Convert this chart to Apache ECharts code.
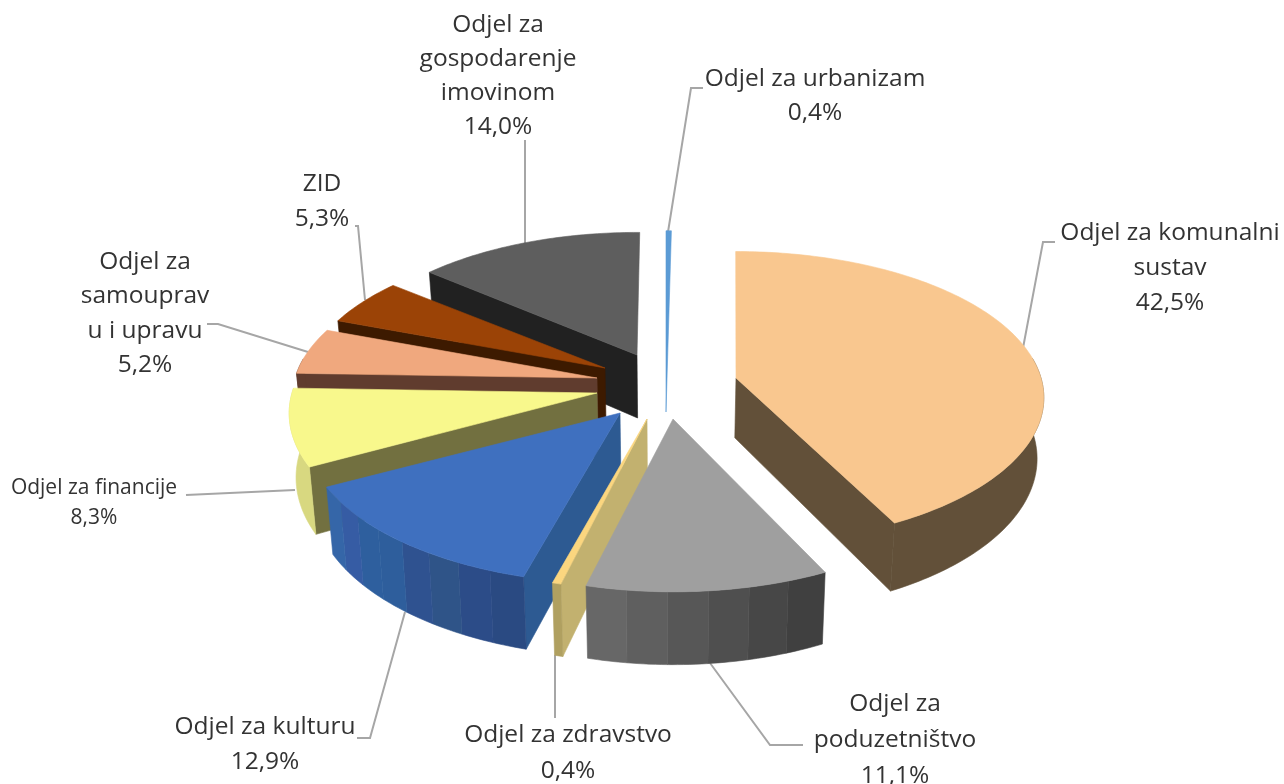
<!DOCTYPE html>
<html>
<head>
<meta charset="utf-8">
<style>html, body { margin: 0; background: #fff; } #chart { width: 1284px; height: 784px; }</style>
<script src="https://cdn.jsdelivr.net/npm/echarts@6/dist/echarts.min.js"></script>
</head>
<body>
<div id="chart"></div>
<script>
var categories = ["Odjel za urbanizam", "Odjel za komunalni\nsustav", "Odjel za\npoduzetništvo", "Odjel za zdravstvo", "Odjel za kulturu", "Odjel za financije", "Odjel za\nsamouprav\nu i upravu", "ZID", "Odjel za\ngospodarenje\nimovinom"]
var shares = [0.4, 42.5, 11.1, 0.4, 12.9, 8.3, 5.2, 5.3, 14.0]

// everything below is looks only, same order as categories
var apex = [[666, 412], [736, 378], [673, 419], [647, 419], [620, 413], [597, 393], [597, 378], [605, 368], [637, 355]]
var scaleX = [0.8, 1, 1.01, 1, 1.02, 1, 0.99, 0.98, 0.97]
var scaleY = [1.39, 0.97, 1.01, 1, 1, 1, 0.96, 0.95, 0.94]
var scaleZ = [1, 0.95, 1, 1, 1, 1, 1, 1, 1]
var spin = [0, -1.5, 0, 0, 0, 0, 0, 0, 0.6]
var topColors = ["#5b9bd5", "#f9c78f", "#9f9f9f", "#fbd67f", "#3f70bf", "#f8f88c", "#f0a87e", "#9b4306", "#5e5e5e"]
var wallColors = ["#5b9bd5", "#625039", "#636363", "#c2b16f", "#2d5a92", "#727040", "#603c2e", "#3d1a00", "#212121"]
var outerBands = [["#5b9bd5"], ["#625039"], ["#404040", "#474747", "#4f4f4f", "#575757", "#5f5f5f", "#676767"], ["#b0a060"],
    ["#2a4a82", "#2c4c88", "#2f5488", "#2f5290", "#2e5e9c", "#2e5f9e", "#365ca4", "#3566a8"],
    ["#d8d880"], ["#603c2e"], ["#3d1a00"], ["#212121"]]
var drawOrder = [8, 7, 6, 0, 5, 1, 4, 3, 2]

var labelX = [815, 1170, 895, 568, 265, 94, 145, 322, 498]
var labelY = [79, 233, 704, 735, 727, 488, 262, 184, 25]
var labelSize = [24.5, 24.5, 24.5, 24.5, 24.5, 21, 24.5, 24.5, 24.5]
var labelGap = [34, 35, 36, 36, 35, 30, 34.5, 35, 34]
var leaders = [
    [[703, 88], [691, 88], [668, 232]],
    [[1055, 242], [1043, 242], [1023, 348]],
    [[803, 745], [770, 745], [710, 663]],
    [[555, 718], [555, 655]],
    [[357, 738], [370, 738], [405, 612]],
    [[186, 495], [295, 490]],
    [[207, 324], [218, 324], [308, 352]],
    [[355, 226], [358, 226], [365, 300]],
    [[525, 140], [525, 243]],
]

var RX = 305, TILT = 148, PERSP = 0.135, DEPTH = 63, VANISH_X = 670, BOTTOM_SHRINK = 0.982
var total = shares.reduce(function(a, b) { return a + b }, 0)
var starts = [], sum = 0
shares.forEach(function(v) { starts.push(sum / total * 360), sum += v })

function project(i, deg, lower) {
    var t = deg * Math.PI / 180, X = Math.sin(t), Y = Math.cos(t), w = 1 + PERSP * Y
    var x = apex[i][0] + scaleX[i] * RX * X / w, y = apex[i][1] - scaleY[i] * TILT * Y / w
    return lower? drop(i, x, y, w): [x, y]
}
function drop(i, x, y, w) { return [VANISH_X + (x - VANISH_X) * BOTTOM_SHRINK, y + scaleZ[i] * DEPTH / w] }
function poly(points, color) {
    return {type: "polygon", shape: {points: points}, style: {fill: color, stroke: color, lineWidth: 0.6}}
}

function renderSlice(params, api) {
    var i = drawOrder[params.dataIndex]
    var from = starts[i] + spin[i], to = starts[i] + shares[i] / total * 360 + spin[i], kids = []
    var pa = apex[i], pb = drop(i, pa[0], pa[1], 1)
    if (Math.sin(from * Math.PI / 180) < -0.1) {
        kids.push(poly([pa, project(i, from), project(i, from, true), pb], wallColors[i]))
    }
    if (Math.sin(to * Math.PI / 180) > 0.1) {
        kids.push(poly([pa, project(i, to), project(i, to, true), pb], wallColors[i]))
    }
    var bands = outerBands[i]
    bands.forEach(function(color, b) {
        var a0 = from + (to - from) * b / bands.length, a1 = from + (to - from) * (b + 1) / bands.length
        var up = [], down = []
        for (var d = a0; d < a1; d += 1) {
            if (Math.cos(d * Math.PI / 180) < 0.15) up.push(project(i, d)), down.unshift(project(i, d, true))
        }
        if (Math.cos(a1 * Math.PI / 180) < 0.15) up.push(project(i, a1)), down.unshift(project(i, a1, true))
        if (up.length > 1) kids.push(poly(up.concat(down), color))
    })
    var face = [pa]
    for (var d = from; d < to; d += 1) face.push(project(i, d))
    face.push(project(i, to))
    kids.push(poly(face, topColors[i]))
    return {type: "group", children: kids}
}

function renderLabel(params, api) {
    var i = params.dataIndex
    var lines = categories[i].split("\n").concat(shares[i].toFixed(1).replace(".", ",") + "%"), kids = []
    kids.push({type: "polyline", shape: {points: leaders[i]}, style: {fill: null, stroke: "#a6a6a6", lineWidth: 2}})
    lines.forEach(function(text, n) {
        kids.push({type: "text", style: {
            text: text, x: labelX[i], y: labelY[i] + n * labelGap[i],
            align: "center", verticalAlign: "middle", fill: "#333",
            font: labelSize[i] + 'px "Open Sans", sans-serif',
        }})
    })
    return {type: "group", children: kids}
}

var chart = echarts.init(document.getElementById("chart"), null, {renderer: "canvas"})
chart.setOption({
    animation: false, backgroundColor: "#fff",
    series: [
        {type: "custom", coordinateSystem: "none", silent: true, z: 2, renderItem: renderSlice, data: drawOrder.map(function(i) { return shares[i] })},
        {type: "custom", coordinateSystem: "none", silent: true, z: 1, renderItem: renderLabel, data: shares},
    ],
})
</script>
</body>
</html>
